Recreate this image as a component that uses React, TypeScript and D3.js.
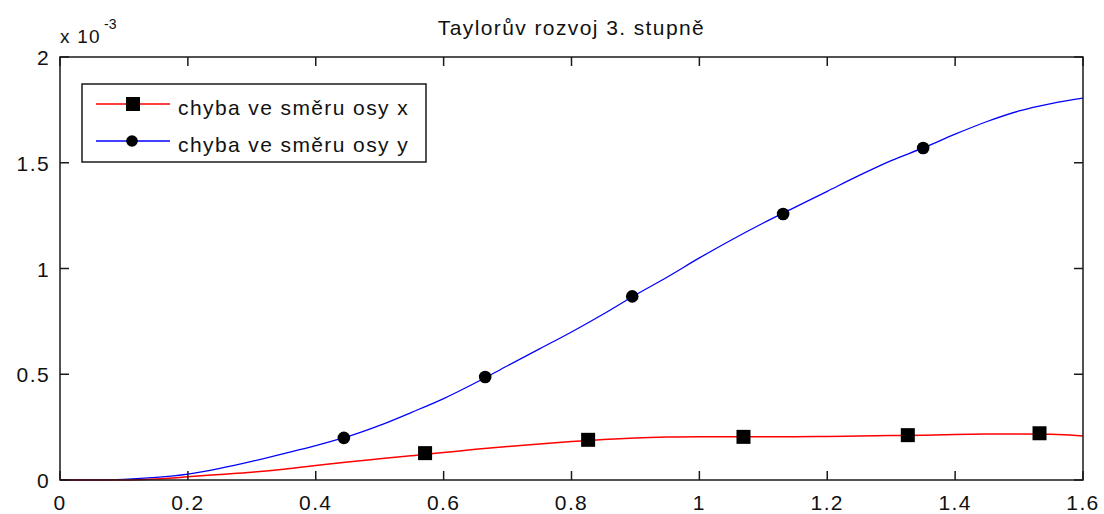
import React from 'react';
import * as d3 from 'd3';

// error curves (values in units of 1e-3)
const xGrid = [0, 0.05, 0.1, 0.15, 0.2, 0.25, 0.3, 0.35, 0.4, 0.45, 0.5, 0.55, 0.6, 0.65, 0.7, 0.75, 0.8,
  0.85, 0.9, 0.95, 1.0, 1.05, 1.1, 1.15, 1.2, 1.25, 1.3, 1.35, 1.4, 1.45, 1.5, 1.55, 1.6];
const errX = [0, 0, 0, 0.005, 0.015, 0.026, 0.037, 0.051, 0.068, 0.085, 0.1, 0.115, 0.13, 0.145, 0.158, 0.17, 0.182,
  0.192, 0.199, 0.203, 0.205, 0.205, 0.205, 0.205, 0.206, 0.208, 0.21, 0.212, 0.215, 0.217, 0.218, 0.216, 0.208];
const errY = [0, 0, 0.003, 0.012, 0.028, 0.055, 0.088, 0.125, 0.163, 0.205, 0.258, 0.32, 0.385, 0.46, 0.54, 0.62, 0.7,
  0.785, 0.875, 0.96, 1.05, 1.135, 1.215, 1.29, 1.365, 1.44, 1.51, 1.57, 1.635, 1.695, 1.745, 1.78, 1.806];

// marker positions
const markX_x = [0.571, 0.826, 1.069, 1.326, 1.532];
const markX_y = [0.127, 0.19, 0.204, 0.212, 0.221];
const markY_x = [0.444, 0.665, 0.895, 1.131, 1.35];
const markY_y = [0.199, 0.487, 0.868, 1.258, 1.57];

const xTicks = [0, 0.2, 0.4, 0.6, 0.8, 1, 1.2, 1.4, 1.6];
const yTicks = [0, 0.5, 1, 1.5, 2];
const title = 'Taylorův rozvoj 3. stupně';
const legendLabels = ['chyba ve směru osy x', 'chyba ve směru osy y'];

const W = 1104, H = 514;
const left = 60, right = 1083, top = 57, bottom = 480;
const font = '"Liberation Sans", Arial, Helvetica, sans-serif';

export default function App() {
  const x = d3.scaleLinear().domain([0, 1.6]).range([left, right]);
  const y = d3.scaleLinear().domain([0, 2]).range([bottom, top]);

  const line = d3.line<number>()
    .x((_, i) => x(xGrid[i]))
    .y(d => y(d))
    .curve(d3.curveMonotoneX);

  const txt = { fontFamily: font, fontSize: 21, letterSpacing: 1.4, fill: '#111' } as const;
  const tick = 9;
  const sq = 14;

  return (
    <svg width={W} height={H} style={{ position: 'absolute', left: 0, top: 0, background: '#fff' }}>
      <rect x={0} y={0} width={W} height={H} fill="#fff" />
      <text x={(left + right) / 2} y={35} textAnchor="middle" {...txt}>{title}</text>

      {/* exponent */}
      <text x={60} y={43} fontFamily={font} fontSize={19} letterSpacing={1.2} fill="#111">x 10</text>
      <text x={104} y={29} fontFamily={font} fontSize={14} fill="#111">-3</text>

      {/* curves */}
      <path d={line(errY) || ''} fill="none" stroke="#0000ff" strokeWidth={1.3} />
      <path d={line(errX) || ''} fill="none" stroke="#ff0000" strokeWidth={1.5} />

      {markY_x.map((v, i) => (
        <circle key={'c' + i} cx={x(v)} cy={y(markY_y[i])} r={6.3} fill="#000" />
      ))}
      {markX_x.map((v, i) => (
        <rect key={'s' + i} x={x(v) - sq / 2} y={y(markX_y[i]) - sq / 2} width={sq} height={sq} fill="#000" />
      ))}

      {/* axes box */}
      <rect x={left} y={top} width={right - left} height={bottom - top} fill="none" stroke="#1a1a1a" strokeWidth={1.5} />
      {xTicks.map(t => (
        <g key={'x' + t}>
          <line x1={x(t)} x2={x(t)} y1={bottom} y2={bottom - tick} stroke="#1a1a1a" strokeWidth={1.5} />
          <line x1={x(t)} x2={x(t)} y1={top} y2={top + tick} stroke="#1a1a1a" strokeWidth={1.5} />
          <text x={x(t)} y={510} textAnchor="middle" {...txt}>{String(t)}</text>
        </g>
      ))}
      {yTicks.map(t => (
        <g key={'y' + t}>
          <line x1={left} x2={left + tick} y1={y(t)} y2={y(t)} stroke="#1a1a1a" strokeWidth={1.5} />
          <line x1={right} x2={right - tick} y1={y(t)} y2={y(t)} stroke="#1a1a1a" strokeWidth={1.5} />
          <text x={50} y={y(t) + 8} textAnchor="end" {...txt}>{String(t)}</text>
        </g>
      ))}

      {/* legend */}
      <rect x={82} y={84} width={344} height={78} fill="#fff" stroke="#1a1a1a" strokeWidth={1.5} />
      <line x1={96} x2={170} y1={104} y2={104} stroke="#ff0000" strokeWidth={1.5} />
      <rect x={133 - sq / 2} y={104 - sq / 2} width={sq} height={sq} fill="#000" />
      <text x={178} y={115} {...txt}>{legendLabels[0]}</text>
      <line x1={96} x2={170} y1={141} y2={141} stroke="#0000ff" strokeWidth={1.3} />
      <circle cx={132} cy={141} r={5.8} fill="#000" />
      <text x={178} y={152} {...txt}>{legendLabels[1]}</text>
    </svg>
  );
}
